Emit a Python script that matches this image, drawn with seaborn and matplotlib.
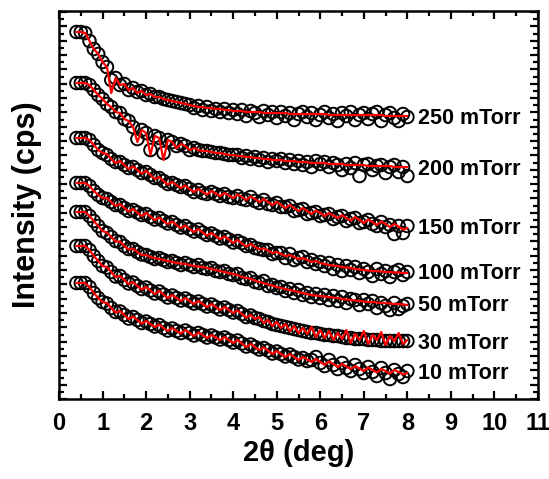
import numpy as np
import pandas as pd
import matplotlib
matplotlib.use("Agg")
import matplotlib.pyplot as plt
from matplotlib.ticker import MultipleLocator
import seaborn as sns

# sampling grid of the scans (deg)
two_theta = np.linspace(0.4, 8.0, 77)

pressures = ["250 mTorr", "200 mTorr", "150 mTorr", "100 mTorr",
             "50 mTorr", "30 mTorr", "10 mTorr"]

# log intensity (arb. units, curves offset for clarity) -- measured data
meas_250 = [36.7, 36.7, 36.6, 35.8, 35.0, 34.5, 33.7,
            33.2, 31.9, 32.1, 31.4, 31.5, 30.9, 31.1, 30.7, 30.8, 30.4,
            30.5, 30.2, 30.2, 30.0, 29.9, 29.8, 29.7, 29.6, 29.5, 29.4,
            29.1, 29.3, 28.9, 29.2, 28.8, 29.0, 28.7, 29.0, 28.6, 28.9,
            28.5, 28.9, 28.3, 28.8, 28.6, 28.2, 28.8, 28.4, 28.7, 28.1,
            28.7, 28.3, 28.6, 27.9, 28.5, 28.7, 28.2, 28.6, 27.9, 28.4,
            28.7, 28.1, 28.5, 27.8, 28.6, 28.3, 28.7, 27.9, 28.4, 28.6,
            28.0, 28.5, 28.7, 27.8, 28.4, 28.6, 28.1, 27.8, 28.5, 28.2]
meas_200 = [31.6, 31.6, 31.6, 31.4, 30.9, 30.4, 30.0,
            29.5, 29.2, 28.7, 28.6, 28.0, 27.8, 27.2, 26.0, 26.9, 26.6,
            24.9, 26.3, 26.1, 24.6, 25.9, 25.7, 25.3, 25.5, 25.3, 24.9,
            25.1, 24.9, 24.8, 24.8, 24.7, 24.6, 24.6, 24.5, 24.4, 24.4,
            24.4, 24.1, 24.3, 24.0, 24.2, 23.9, 24.1, 23.7, 24.0, 23.8,
            24.0, 23.6, 23.9, 23.5, 23.8, 23.4, 23.7, 23.2, 23.8, 23.5,
            23.7, 23.2, 23.6, 23.4, 22.9, 23.5, 23.1, 23.6, 22.3, 23.4,
            23.5, 22.9, 23.3, 23.4, 22.6, 23.2, 23.4, 22.7, 23.2, 22.3]
meas_150 = [26.1, 26.1, 26.1, 25.9, 25.4, 24.9, 24.6,
            24.4, 24.0, 23.7, 23.7, 23.4, 23.1, 23.2, 22.9, 22.6, 22.7,
            22.4, 22.1, 22.1, 21.8, 21.5, 21.6, 21.4, 21.2, 21.3, 21.0,
            20.7, 20.9, 20.6, 20.5, 20.7, 20.5, 20.3, 20.5, 20.2, 20.1,
            20.3, 20.0, 19.9, 20.2, 19.8, 19.6, 19.9, 19.5, 19.4, 19.6,
            19.2, 19.2, 19.3, 18.8, 18.9, 19.0, 18.5, 18.6, 18.7, 18.3,
            18.4, 18.5, 18.0, 18.2, 18.3, 17.8, 18.0, 18.1, 17.6, 17.7,
            17.9, 17.5, 17.3, 17.7, 17.2, 17.4, 16.5, 17.3, 16.6, 17.3]
meas_100 = [21.6, 21.6, 21.6, 21.3, 20.8, 20.4, 20.1,
            20.0, 19.7, 19.4, 19.4, 19.1, 18.8, 18.9, 18.65, 18.4, 18.5,
            18.2, 17.95, 18.1, 17.8, 17.55, 17.7, 17.4, 17.15, 17.3, 17.0,
            16.75, 16.95, 16.65, 16.4, 16.55, 16.3, 16.05, 16.2, 15.95, 15.65,
            15.8, 15.6, 15.3, 15.4, 15.1, 15.0, 14.9, 14.9, 14.5, 14.6,
            14.6, 14.1, 14.5, 13.9, 14.1, 14.2, 13.7, 13.9, 13.5, 13.7,
            13.3, 13.6, 13.0, 13.4, 12.8, 13.3, 12.9, 13.2, 12.6, 13.0,
            12.7, 12.3, 13.0, 12.5, 12.8, 12.2, 12.7, 12.9, 12.4, 12.7]
meas_50 = [18.7, 18.7, 18.7, 18.3, 17.8, 17.3, 16.8,
           16.6, 16.2, 15.8, 15.7, 15.3, 15.0, 15.0, 14.7, 14.45, 14.4,
           14.2, 14.0, 14.1, 13.9, 13.7, 13.8, 13.6, 13.4, 13.6, 13.4,
           13.2, 13.4, 13.1, 13.0, 13.1, 12.8, 12.7, 12.8, 12.5, 12.4,
           12.5, 12.1, 12.0, 12.1, 11.7, 11.6, 11.8, 11.3, 11.4, 11.1,
           11.2, 10.8, 11.0, 10.6, 10.9, 10.4, 10.6, 10.2, 10.5, 10.1,
           10.4, 9.9, 10.3, 9.8, 10.2, 9.6, 10.0, 9.9, 9.4, 9.9,
           9.5, 9.8, 9.1, 9.6, 9.3, 8.9, 9.6, 9.0, 9.3, 9.5]
meas_30 = [15.3, 15.3, 15.3, 14.9, 14.3, 13.8, 13.3,
           13.15, 12.7, 12.25, 12.3, 11.9, 11.55, 11.65, 11.3, 11.0, 11.15,
           10.85, 10.55, 10.75, 10.45, 10.15, 10.35, 10.1, 9.85, 10.05, 9.8,
           9.55, 9.75, 9.5, 9.25, 9.45, 9.2, 8.95, 9.15, 8.9, 8.65,
           8.8, 8.5, 8.2, 8.35, 8.1, 8.0, 7.8, 7.7, 7.5, 7.4,
           7.3, 7.2, 7.1, 7.0, 6.9, 6.8, 6.7, 6.6, 6.6, 6.5,
           6.4, 6.4, 6.3, 6.3, 6.2, 6.1, 6.1, 6.0, 6.0, 6.0,
           5.9, 5.9, 5.9, 5.8, 5.8, 5.8, 5.8, 5.8, 5.8, 5.8]
meas_10 = [11.6, 11.6, 11.6, 11.2, 10.6, 10.1, 9.7,
           9.55, 9.1, 8.7, 8.75, 8.4, 8.05, 8.2, 7.9, 7.6, 7.75,
           7.5, 7.25, 7.4, 7.1, 6.85, 7.05, 6.8, 6.6, 6.85, 6.6,
           6.35, 6.6, 6.4, 6.15, 6.35, 6.15, 5.95, 6.15, 5.9, 5.65,
           5.85, 5.55, 5.25, 5.45, 5.2, 4.95, 5.1, 4.85, 4.55, 4.75,
           4.5, 4.25, 4.45, 4.2, 3.95, 4.1, 3.8, 3.9, 4.2, 3.6,
           3.3, 3.9, 3.4, 3.0, 3.6, 3.1, 2.8, 3.4, 3.0, 2.6,
           3.2, 2.7, 2.3, 3.1, 2.6, 2.0, 2.9, 2.5, 2.2, 2.8]

# fitted curves
fit_250 = [36.7, 36.7, 36.6, 35.8, 35.0, 34.5, 33.7,
           33.2, 30.6, 32.1, 31.4, 31.5, 30.9, 31.1, 30.6, 30.8, 30.4,
           30.5, 30.2, 30.2, 30.0, 29.9, 29.8, 29.7, 29.6, 29.5, 29.4,
           29.3, 29.2, 29.2, 29.1, 29.1, 29.0, 29.0, 28.9, 28.9, 28.8,
           28.8, 28.8, 28.7, 28.7, 28.7, 28.7, 28.6, 28.6, 28.6, 28.6,
           28.6, 28.6, 28.5, 28.5, 28.5, 28.5, 28.5, 28.5, 28.5, 28.5,
           28.5, 28.4, 28.4, 28.4, 28.4, 28.4, 28.4, 28.4, 28.4, 28.4,
           28.4, 28.4, 28.4, 28.4, 28.3, 28.3, 28.3, 28.3, 28.3, 28.3]
fit_200 = [31.6, 31.6, 31.6, 31.4, 30.9, 30.4, 30.0,
           29.5, 29.2, 28.7, 28.6, 28.0, 27.8, 27.2, 25.7, 26.9, 26.6,
           24.4, 26.3, 26.1, 23.9, 25.9, 25.7, 25.1, 25.5, 25.3, 24.9,
           25.1, 24.9, 24.8, 24.8, 24.7, 24.6, 24.6, 24.5, 24.4, 24.4,
           24.3, 24.3, 24.2, 24.2, 24.1, 24.1, 24.0, 24.0, 23.9, 23.9,
           23.9, 23.8, 23.8, 23.8, 23.7, 23.7, 23.7, 23.6, 23.6, 23.6,
           23.6, 23.5, 23.5, 23.5, 23.5, 23.4, 23.4, 23.4, 23.4, 23.4,
           23.3, 23.3, 23.3, 23.3, 23.3, 23.3, 23.2, 23.2, 23.2, 23.2]
fit_150 = [26.1, 26.1, 26.1, 25.9, 25.4, 24.9, 24.6,
           24.5, 24.0, 23.6, 23.8, 23.4, 23.0, 23.25, 22.9, 22.55, 22.8,
           22.4, 22.0, 22.2, 21.8, 21.45, 21.7, 21.4, 21.1, 21.35, 21.0,
           20.7, 21.0, 20.7, 20.45, 20.8, 20.55, 20.3, 20.6, 20.35, 20.1,
           20.45, 20.2, 19.9, 20.25, 20.0, 19.7, 20.0, 19.7, 19.4, 19.7,
           19.4, 19.1, 19.4, 19.1, 18.8, 19.1, 18.8, 18.5, 18.85, 18.6,
           18.3, 18.6, 18.35, 18.1, 18.4, 18.1, 17.85, 18.2, 17.9, 17.6,
           17.95, 17.7, 17.4, 17.75, 17.5, 17.2, 17.5, 17.25, 16.95, 17.1]
fit_100 = [21.6, 21.6, 21.6, 21.3, 20.8, 20.4, 20.1,
           20.1, 19.7, 19.3, 19.5, 19.1, 18.75, 19.0, 18.65, 18.3, 18.6,
           18.25, 17.9, 18.15, 17.8, 17.5, 17.75, 17.4, 17.1, 17.35, 17.0,
           16.7, 17.0, 16.65, 16.35, 16.6, 16.3, 16.0, 16.25, 15.95, 15.6,
           15.9, 15.55, 15.25, 15.5, 15.2, 15.0, 15.05, 14.85, 14.6, 14.7,
           14.5, 14.3, 14.4, 14.2, 14.0, 14.1, 13.9, 13.7, 13.8, 13.6,
           13.5, 13.4, 13.35, 13.3, 13.2, 13.15, 13.1, 13.0, 12.95, 12.9,
           12.85, 12.8, 12.8, 12.75, 12.7, 12.7, 12.65, 12.65, 12.6, 12.6]
fit_50 = [18.7, 18.7, 18.7, 18.3, 17.8, 17.3, 16.8,
          16.65, 16.2, 15.75, 15.75, 15.3, 14.95, 15.05, 14.7, 14.4, 14.4,
          14.2, 14.1, 14.0, 13.9, 13.8, 13.7, 13.6, 13.55, 13.5, 13.4,
          13.3, 13.25, 13.2, 13.1, 13.0, 12.9, 12.8, 12.7, 12.6, 12.5,
          12.4, 12.2, 12.1, 12.0, 11.85, 11.7, 11.6, 11.45, 11.35, 11.2,
          11.1, 11.0, 10.9, 10.8, 10.7, 10.6, 10.5, 10.4, 10.35, 10.3,
          10.25, 10.2, 10.15, 10.1, 10.0, 9.95, 9.9, 9.85, 9.8, 9.75,
          9.7, 9.7, 9.65, 9.6, 9.6, 9.55, 9.5, 9.5, 9.45, 9.4]
fit_30 = [15.3, 15.3, 15.3, 14.9, 14.3, 13.8, 13.3,
          13.2, 12.7, 12.2, 12.3, 11.9, 11.5, 11.7, 11.3, 10.95, 11.2,
          10.85, 10.5, 10.8, 10.45, 10.1, 10.4, 10.1, 9.8, 10.1, 9.8,
          9.5, 9.8, 9.5, 9.2, 9.5, 9.2, 8.9, 9.2, 8.9, 8.6,
          8.85, 8.5, 8.15, 8.4, 8.0, 8.2, 7.6, 7.9, 7.3, 7.7,
          7.1, 7.5, 6.8, 7.3, 6.6, 7.1, 6.5, 7.2, 6.2, 6.9,
          6.1, 6.8, 5.9, 6.6, 6.0, 6.9, 5.6, 6.5, 5.9, 6.8,
          5.5, 6.4, 5.9, 6.7, 5.4, 6.3, 5.8, 6.6, 5.5, 5.9]
fit_10 = [11.6, 11.6, 11.6, 11.2, 10.6, 10.1, 9.7,
          9.6, 9.1, 8.65, 8.8, 8.4, 8.0, 8.25, 7.9, 7.55, 7.8,
          7.5, 7.2, 7.45, 7.1, 6.8, 7.1, 6.8, 6.55, 6.9, 6.6,
          6.3, 6.65, 6.4, 6.1, 6.4, 6.15, 5.9, 6.2, 5.9, 5.6,
          5.9, 5.55, 5.2, 5.5, 5.2, 4.9, 5.15, 4.85, 4.5, 4.8,
          4.5, 4.2, 4.5, 4.2, 3.9, 4.2, 3.95, 3.7, 4.0, 3.7,
          3.4, 3.75, 3.5, 3.2, 3.5, 3.25, 3.0, 3.3, 3.05, 2.8,
          3.15, 2.9, 2.65, 3.0, 2.8, 2.55, 2.9, 2.7, 2.45, 2.6]

label_y = [28.1, 23.0, 17.1, 12.6, 9.4, 5.6, 2.6]

meas = [meas_250, meas_200, meas_150, meas_100, meas_50, meas_30, meas_10]
fits = [fit_250, fit_200, fit_150, fit_100, fit_50, fit_30, fit_10]

rows = []
for p, m, f in zip(pressures, meas, fits):
    for x, ym, yf in zip(two_theta, m, f):
        rows.append({"2theta": x, "meas": ym, "fit": yf, "pressure": p})
df = pd.DataFrame(rows)

sns.set_theme(style="ticks")
plt.rcParams["font.family"] = ["Liberation Sans", "DejaVu Sans"]
plt.rcParams["font.weight"] = "bold"
plt.rcParams["text.color"] = "black"
plt.rcParams["axes.labelcolor"] = "black"
plt.rcParams["xtick.color"] = "black"
plt.rcParams["ytick.color"] = "black"

fig = plt.figure(figsize=(5.49, 4.79), dpi=100)
ax = fig.add_axes([0.1075, 0.167, 0.8725, 0.810])

sns.scatterplot(data=df, x="2theta", y="meas", ax=ax, marker="o", s=82,
                color="none", edgecolor="black", linewidth=1.4,
                legend=False, zorder=2)
sns.lineplot(data=df, x="2theta", y="fit", units="pressure", estimator=None,
             ax=ax, color="red", linewidth=1.6, legend=False, zorder=3,
             sort=True)

for p, yl in zip(pressures, label_y):
    ax.text(8.25, yl, p, fontsize=15.5, fontweight="bold", va="center",
            ha="left", color="black", zorder=4)

ax.set_xlim(0, 11)
ax.set_ylim(0, 38.8)
ax.xaxis.set_major_locator(MultipleLocator(1))
ax.xaxis.set_minor_locator(MultipleLocator(0.5))
ax.yaxis.set_major_locator(MultipleLocator(1.433))
ax.yaxis.set_minor_locator(MultipleLocator(0.7165))
ax.tick_params(which="both", direction="in", top=True, right=True,
               labelleft=False, width=1.6, color="black")
ax.tick_params(which="major", length=6)
ax.tick_params(which="minor", length=3.5)
ax.tick_params(axis="x", labelsize=17, pad=9, labelcolor="black")
for lab in ax.get_xticklabels():
    lab.set_fontweight("bold")
for s in ax.spines.values():
    s.set_linewidth(1.8)
    s.set_color("black")

ax.set_xlabel("2θ (deg)", fontsize=21, fontweight="bold", labelpad=3)
ax.set_ylabel("Intensity (cps)", fontsize=22, fontweight="bold", labelpad=12)

fig.savefig("out.png", dpi=100)
